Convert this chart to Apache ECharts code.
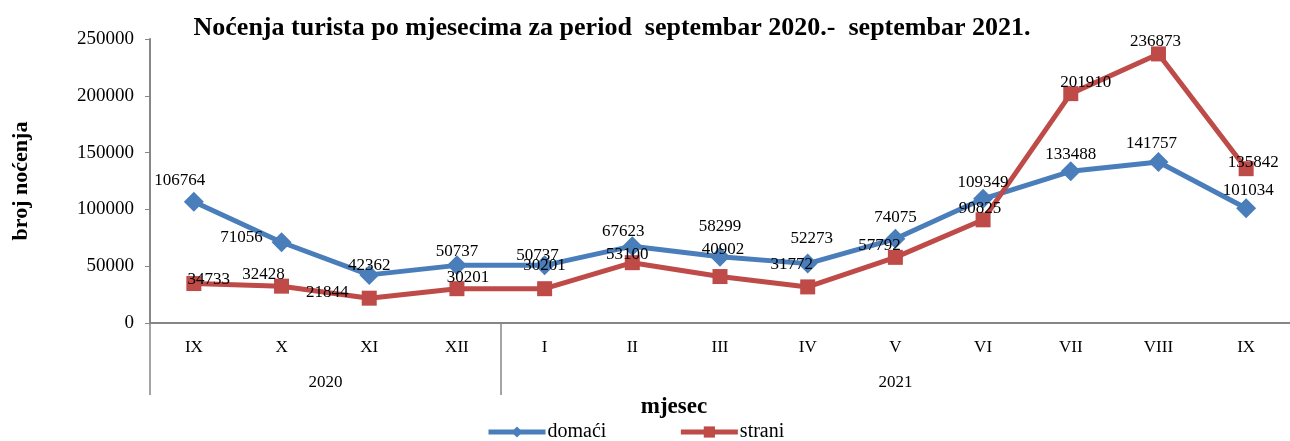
<!DOCTYPE html>
<html>
<head>
<meta charset="utf-8">
<script src="https://cdn.jsdelivr.net/npm/echarts@6/dist/echarts.min.js"></script>
<style>
  html, body { margin: 0; padding: 0; background: #fff; }
  #chart { width: 1290px; height: 441px; }
</style>
</head>
<body>
<div id="chart"></div>
<script>
var months = ['IX', 'X', 'XI', 'XII', 'I', 'II', 'III', 'IV', 'V', 'VI', 'VII', 'VIII', 'IX'];
var years = ['2020', '2021'];
var monthsPerYear = [4, 9];
var domaci = [106764, 71056, 42362, 50737, 50737, 67623, 58299, 52273, 74075, 109349, 133488, 141757, 101034];
var strani = [34733, 32428, 21844, 30201, 30201, 53100, 40902, 31772, 57792, 90825, 201910, 236873, 135842];

// label nudges so the value labels sit roughly where the original had them
var domaciLabelShift = [[-14, -21], [-40, -5], [0, -9], [0, -14], [-7, -10], [-9, -15], [0, -30], [4, -25], [0, -21], [0, -16], [0, -17], [-7, -18], [2, -18]];
var straniLabelShift = [[15, -4], [-18, -12], [-42, -6], [11, -11], [0, -23], [-5, -8], [3, -27], [-16, -22], [-16, -12], [-3, -11], [15, -11], [-3, -12], [7, -6]];

var serif = 'Liberation Serif';

// year group boundaries and centres along the month axis
var bounds = [0];
var centres = [];
monthsPerYear.forEach(function (n, i) {
  centres.push(bounds[i] + n / 2);
  bounds.push(bounds[i] + n);
});

function withLabels(values, shifts) {
  return values.map(function (v, i) {
    return { value: v, label: { offset: shifts[i] } };
  });
}

var chart = echarts.init(document.getElementById('chart'));

var option = {
  animation: false,
  title: [{
    text: 'Noćenja turista po mjesecima za period  septembar 2020.-  septembar 2021.',
    left: 607,
    top: 10,
    textAlign: 'center',
    textStyle: { fontFamily: serif, fontWeight: 'bold', fontSize: 26, color: '#000' }
  }, {
    text: 'mjesec',
    left: 669,
    top: 391,
    textAlign: 'center',
    textStyle: { fontFamily: serif, fontWeight: 'bold', fontSize: 23, color: '#000' }
  }],
  legend: {
    bottom: -6,
    left: 481,
    itemWidth: 57,
    itemHeight: 14,
    itemGap: 72,
    lineStyle: { width: 5 },
    textStyle: { fontFamily: serif, fontSize: 20, color: '#000', padding: [0, 0, 0, -3] },
    data: ['domaći', 'strani']
  },
  grid: { left: 150, right: 0, top: 39, bottom: 118 },
  xAxis: [{
    type: 'category',
    data: months,
    axisLine: { lineStyle: { color: '#868686', width: 2 } },
    axisTick: { show: false },
    axisLabel: { fontFamily: serif, fontSize: 17, color: '#000', margin: 16 }
  }, {
    type: 'value',
    min: 0,
    max: months.length,
    position: 'bottom',
    splitLine: { show: false },
    axisLine: { show: false },
    axisTick: {
      show: true,
      customValues: bounds.slice(0, bounds.length - 1),
      length: 72,
      lineStyle: { color: '#868686', width: 1.5 }
    },
    axisLabel: {
      customValues: centres,
      margin: 51,
      fontFamily: serif,
      fontSize: 17,
      color: '#000',
      formatter: function (v) {
        var i = centres.indexOf(v);
        return i >= 0 ? years[i] : '';
      }
    }
  }],
  yAxis: {
    type: 'value',
    min: 0,
    max: 250000,
    interval: 50000,
    name: 'broj noćenja',
    nameLocation: 'middle',
    nameRotate: 90,
    nameGap: 118,
    nameTextStyle: { fontFamily: serif, fontWeight: 'bold', fontSize: 22, color: '#000' },
    splitLine: { show: false },
    axisLine: { show: true, lineStyle: { color: '#868686', width: 2 } },
    axisTick: { show: true, length: 5, lineStyle: { color: '#868686' } },
    axisLabel: {
      fontFamily: serif, fontSize: 19, color: '#000', margin: 16,
      formatter: function (v) { return String(v); }
    }
  },
  series: [{
    name: 'domaći',
    type: 'line',
    data: withLabels(domaci, domaciLabelShift),
    symbol: 'diamond',
    symbolSize: 20,
    lineStyle: { color: '#4A7EBB', width: 5 },
    itemStyle: { color: '#4A7EBB' },
    label: { show: true, position: 'inside', fontFamily: serif, fontSize: 17, color: '#000' }
  }, {
    name: 'strani',
    type: 'line',
    data: withLabels(strani, straniLabelShift),
    symbol: 'rect',
    symbolSize: 15,
    lineStyle: { color: '#BE4B48', width: 5 },
    itemStyle: { color: '#BE4B48' },
    label: { show: true, position: 'inside', fontFamily: serif, fontSize: 17, color: '#000' }
  }]
};

chart.setOption(option);
</script>
</body>
</html>
